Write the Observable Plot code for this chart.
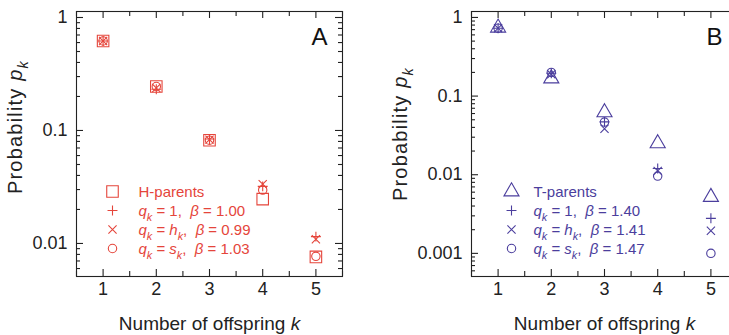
<!DOCTYPE html>
<html><head><meta charset="utf-8">
<script src="https://cdn.jsdelivr.net/npm/d3@7"></script>
<script src="https://cdn.jsdelivr.net/npm/@observablehq/plot@0.6"></script>
<style>
html,body{margin:0;padding:0;background:#fff;overflow:hidden;width:729px;height:335px;}
#wrap{position:relative;width:729px;height:335px;overflow:hidden;}
#wrap svg{position:absolute;top:0;}
</style></head><body><div id="wrap"></div>
<script>
// ---- data ----
const offspring = [1, 2, 3, 4, 5];
// Panel A: H-parents
const hObserved = [0.62, 0.245, 0.082, 0.0247, 0.0076];
const hQ1 = [0.62, 0.232, 0.084, 0.032, 0.0115];
const hQh = [0.62, 0.238, 0.083, 0.0335, 0.0109];
const hQs = [0.62, 0.245, 0.082, 0.0297, 0.0077];
// Panel B: T-parents
const tObserved = [0.74, 0.167, 0.062, 0.025, 0.0052];
const tQ1 = [0.73, 0.195, 0.047, 0.012, 0.00279];
const tQh = [0.73, 0.19, 0.0385, 0.0112, 0.00194];
const tQs = [0.73, 0.2, 0.0467, 0.0096, 0.001];

const legendA = ["H-parents", "*q*_{k} = 1,  *β* = 1.00", "*q*_{k} = *h*_{k},  *β* = 0.99", "*q*_{k} = *s*_{k},  *β* = 1.03"];
const legendB = ["T-parents", "*q*_{k} = 1,  *β* = 1.40", "*q*_{k} = *h*_{k},  *β* = 1.41", "*q*_{k} = *s*_{k},  *β* = 1.47"];

const xTicks = [1, 2, 3, 4, 5];
const xMinorTicks = [0.5, 1.5, 2.5, 3.5, 4.5, 5.5];
const yTicksA = [0.01, 0.1, 1];
const yTickLabelsA = ["0.01", "0.1", "1"];
const yMinorA = [0.006, 0.007, 0.008, 0.009, 0.02, 0.03, 0.04, 0.05, 0.06, 0.07, 0.08, 0.09, 0.2, 0.3, 0.4, 0.5, 0.6, 0.7, 0.8, 0.9];
const yTicksB = [0.001, 0.01, 0.1, 1];
const yTickLabelsB = ["0.001", "0.01", "0.1", "1"];
const yMinorB = [0.0006, 0.0007, 0.0008, 0.0009, 0.002, 0.003, 0.004, 0.005, 0.006, 0.007, 0.008, 0.009, 0.02, 0.03, 0.04, 0.05, 0.06, 0.07, 0.08, 0.09, 0.2, 0.3, 0.4, 0.5, 0.6, 0.7, 0.8, 0.9];

const xTitle = "Number of offspring *k*";
const yTitle = "Probability *p*_{k}";

const RED = "#e5453b";
const PURPLE = "#4b3e9d";
const INK = "#222";
const FONT = "'Liberation Sans', Arial, Helvetica, sans-serif";

const FRAME_W = 266, FRAME_H = 265;

// inward tick marks on the frame (tick spans the frame minus an inset)
function inwardY(ticks, side, size) {
  const inset = FRAME_W - size;
  return Plot.tickY(ticks, {y: d => d, stroke: INK, strokeWidth: 1.1,
    insetLeft: side === "right" ? inset : 0, insetRight: side === "left" ? inset : 0});
}
function inwardX(ticks, side, size) {
  const inset = FRAME_H - size;
  return Plot.tickX(ticks, {x: d => d, stroke: INK, strokeWidth: 1.1,
    insetTop: side === "bottom" ? inset : 0, insetBottom: side === "top" ? inset : 0});
}

function panel(cfg) {
  const rows = offspring.map((k, i) => ({k, obs: cfg.obs[i], q1: cfg.q1[i], qh: cfg.qh[i], qs: cfg.qs[i]}));
  const labelMap = new Map(cfg.yTicks.map((t, i) => [t, cfg.yLabels[i]]));
  const legendSymbols = [cfg.obsSymbol, "plus", "times", "circle"];
  const legendR = [cfg.obsR, 3.3, 3.8, 4.2];
  const legendMarks = [];
  cfg.legend.forEach((lab, i) => {
    legendMarks.push(Plot.dot([0], {frameAnchor: "top-left", dx: cfg.legDx, dy: 180 + 19 * i, symbol: legendSymbols[i], r: legendR[i], stroke: cfg.color, fill: "none", strokeWidth: 1.1}));
    legendMarks.push(Plot.text([lab], {text: d => d, frameAnchor: "top-left", dx: 62, dy: 181 + 19 * i, textAnchor: "start", lineAnchor: "middle", fill: cfg.color, fontSize: 15}));
  });
  return Plot.plot({
    width: cfg.width, height: 335,
    marginLeft: cfg.marginLeft, marginRight: cfg.marginRight, marginTop: 11, marginBottom: 59,
    x: {domain: [0.5, 5.5]},
    y: {type: "log", domain: cfg.yDomain},
    style: {fontFamily: FONT, fontSize: "18px", color: INK, background: "white", overflow: "visible"},
    marks: [
      inwardY(cfg.yTicks, "left", 7),
      inwardY(cfg.yTicks, "right", 7),
      inwardY(cfg.yMinor, "left", 4),
      inwardY(cfg.yMinor, "right", 4),
      inwardX(xTicks, "bottom", 7),
      inwardX(xTicks, "top", 7),
      inwardX(xMinorTicks, "bottom", 5),
      inwardX(xMinorTicks, "top", 5),
      Plot.frame({stroke: INK, strokeWidth: 1.1}),
      // tick labels
      Plot.axisY(cfg.yTicks, {anchor: "left", tickSize: 0, tickPadding: 9, tickFormat: d => labelMap.get(d), fontSize: 18, label: null}),
      Plot.axisX(xTicks, {anchor: "bottom", tickSize: 0, tickPadding: 6, tickFormat: d => String(d), fontSize: 18, label: null}),
      // titles
      Plot.text([xTitle], {text: d => d, frameAnchor: "bottom", dy: 47, lineAnchor: "middle", textAnchor: "middle", fontSize: 19, fill: INK}),
      Plot.text([yTitle], {text: d => d, frameAnchor: "left", dx: cfg.yTitleDx, dy: cfg.yTitleDy, rotate: -90, lineAnchor: "middle", textAnchor: "middle", fontSize: 20, fill: INK}),
      Plot.text([cfg.letter], {text: d => d, frameAnchor: "top-right", dx: -23, dy: 26, lineAnchor: "middle", textAnchor: "middle", fontSize: 24, fill: "#111"}),
      // data
      Plot.dot(rows, {x: "k", y: "obs", symbol: cfg.obsSymbol, r: cfg.obsR, stroke: cfg.color, fill: "none", strokeWidth: 1.1}),
      Plot.dot(rows, {x: "k", y: "q1", symbol: "plus", r: 3.3, stroke: cfg.color, strokeWidth: 1.1}),
      Plot.dot(rows, {x: "k", y: "qh", symbol: "times", r: 3.8, stroke: cfg.color, strokeWidth: 1.1}),
      Plot.dot(rows, {x: "k", y: "qs", symbol: "circle", r: 4.2, stroke: cfg.color, fill: "none", strokeWidth: 1.1}),
      ...legendMarks
    ]
  });
}

// turn *italic* and _{subscript} markup into SVG tspans
function richify(svg) {
  svg.querySelectorAll("text").forEach(el => {
    const s = el.textContent;
    if (!/[*]|_\{/.test(s)) return;
    const fs = parseFloat(getComputedStyle(el).fontSize) || 15;
    while (el.firstChild) el.removeChild(el.firstChild);
    const re = /\*([^*]+)\*|_\{([^}]+)\}|([^*_]+)/g;
    let m, shifted = false;
    const NS = "http://www.w3.org/2000/svg";
    while ((m = re.exec(s))) {
      const t = document.createElementNS(NS, "tspan");
      if (m[1] !== undefined) { t.textContent = m[1]; t.setAttribute("font-style", "italic"); }
      else if (m[2] !== undefined) { t.textContent = m[2]; t.setAttribute("font-style", "italic"); t.setAttribute("font-size", (fs * 0.72).toFixed(1)); t.setAttribute("dy", (fs * 0.28).toFixed(1)); shifted = true; }
      else { t.textContent = m[3]; }
      if (m[2] === undefined && shifted) { t.setAttribute("dy", (-fs * 0.28).toFixed(1)); shifted = false; }
      el.appendChild(t);
    }
  });
}

const wrap = document.getElementById("wrap");
const A = panel({obs: hObserved, q1: hQ1, qh: hQh, qs: hQs, color: RED, obsSymbol: "square", obsR: 6.5,
  legend: legendA, legDx: 36, letter: "A", yTicks: yTicksA, yLabels: yTickLabelsA, yMinor: yMinorA,
  yDomain: [0.0051, 1.13], width: 365, marginLeft: 76, marginRight: 23, yTitleDx: -61, yTitleDy: -17});
A.style.left = "0px";
const B = panel({obs: tObserved, q1: tQ1, qh: tQh, qs: tQs, color: PURPLE, obsSymbol: "triangle", obsR: 5.6,
  legend: legendB, legDx: 40, letter: "B", yTicks: yTicksB, yLabels: yTickLabelsB, yMinor: yMinorB,
  yDomain: [0.000508, 1.19], width: 376, marginLeft: 106, marginRight: 4, yTitleDx: -71, yTitleDy: -10});
B.style.left = "365px";
wrap.appendChild(A);
wrap.appendChild(B);
richify(A);
richify(B);
[A, B].forEach(svg => svg.querySelectorAll("text").forEach(el => {
  if (el.textContent.startsWith("Probability")) el.setAttribute("letter-spacing", "1.2");
}));
</script></body></html>
